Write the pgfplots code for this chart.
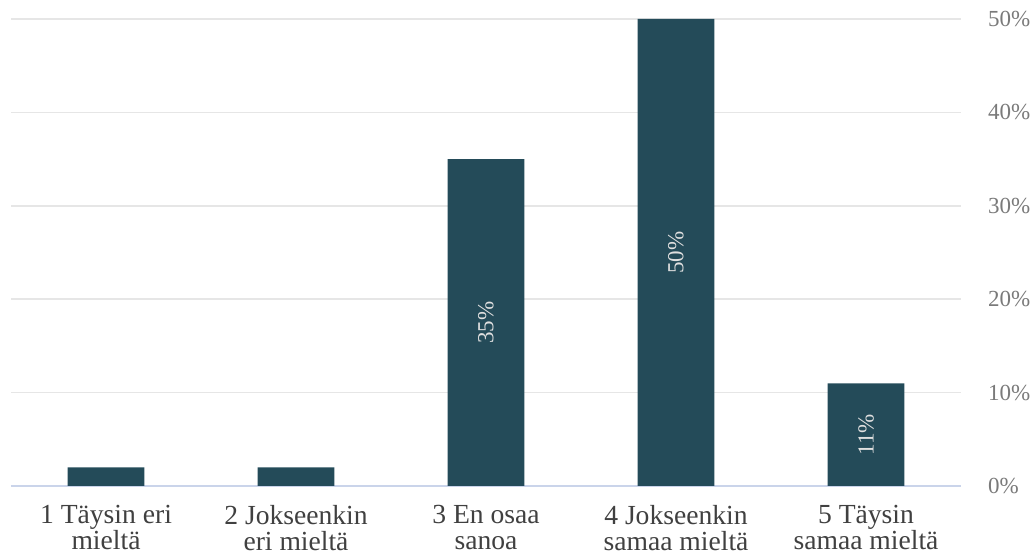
\documentclass[border=0pt]{standalone}
\usepackage{pgfplots}
\pgfplotsset{compat=1.18}
\usepackage{fontspec}
\setmainfont{Liberation Serif}
\definecolor{barc}{HTML}{244B59}
\definecolor{gridc}{HTML}{E6E6E6}
\definecolor{axc}{HTML}{CAD4EA}
\definecolor{tickc}{HTML}{7A7A7A}
\definecolor{catc}{HTML}{404040}
\begin{document}
\begin{tikzpicture}
\path[use as bounding box] (0,0) rectangle (517pt,277.5pt);
\begin{axis}[
  at={(5.5pt,34.5pt)}, anchor=south west,
  scale only axis, width=475pt, height=233.5pt,
  xmin=-0.5, xmax=4.5, ymin=0, ymax=50,
  xtick={0,1,2,3,4},
  xticklabels={{1 Täysin eri\\mieltä},{2 Jokseenkin\\eri mieltä},{3 En osaa\\sanoa},{4 Jokseenkin\\samaa mieltä},{5 Täysin\\samaa mieltä}},
  x tick label style={align=center, font=\fontsize{13.8}{13}\selectfont, text=catc, yshift=-6pt},
  ytick={0,10,20,30,40,50},
  yticklabel={\pgfmathprintnumber{\tick}\%},
  y tick label style={font=\fontsize{11.5}{12}\selectfont, text=tickc, xshift=10pt},
  /pgf/number format/assume math mode=true,
  axis x line*=bottom, axis y line*=right,
  y axis line style={draw=none},
  x axis line style={draw=axc, line width=0.8pt},
  ymajorgrids, major grid style={draw=gridc, line width=0.8pt},
  major tick length=0pt,
  clip=false,
]
\addplot[ybar, bar width=0.405, fill=barc, draw=none] coordinates {(0,2) (1,2) (2,35) (3,50) (4,11)};
\addplot[draw=none, mark=none, nodes near coords, point meta=explicit symbolic,
  every node near coord/.append style={rotate=90, anchor=center, inner sep=0pt, font=\fontsize{11.5}{12}\selectfont, text=white!88!black}]
  coordinates {(2,17.5)[35\%] (3,25)[50\%] (4,5.5)[11\%]};
\end{axis}
\end{tikzpicture}
\end{document}
